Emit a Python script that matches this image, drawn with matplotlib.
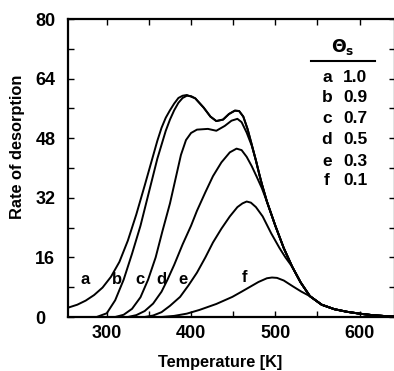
import matplotlib
matplotlib.use("Agg")
import matplotlib.pyplot as plt
from matplotlib.ticker import MultipleLocator, FixedLocator

plt.rcParams['font.family'] = ['Liberation Sans', 'DejaVu Sans']
plt.rcParams['font.weight'] = 'bold'

# ---- data ----
# shared high-temperature tail
tail_T = [555, 570, 585, 600, 615, 630, 642]
tail_rate = [3.3, 2.1, 1.4, 0.9, 0.5, 0.25, 0.1]

# curve a  (theta = 1.0)
a_T = [254, 265, 275, 285, 295, 305, 315, 325, 335, 345, 355, 360, 365, 370, 375,
       380, 385, 390, 395, 405, 415, 423, 430, 438, 445, 452, 457, 462, 467, 472,
       477, 481, 484, 490, 500, 510, 520, 530, 541]
a_rate = [2.5, 3.3, 4.4, 5.9, 7.9, 10.8, 14.8, 20.5, 27.5, 35.3, 43.3, 47.3, 50.8, 53.5, 55.5,
          57.3, 58.8, 59.4, 59.6, 58.7, 56.2, 53.8, 52.6, 53.0, 54.5, 55.4, 55.3, 53.8, 50.5, 46.3,
          42.0, 38.3, 35.7, 31.0, 24.5, 18.5, 13.5, 9.3, 5.6]

# curve b  (theta = 0.9)
b_T = [288, 300, 310, 320, 330, 340, 350, 360, 370, 375, 380, 385, 390, 395, 400]
b_rate = [0.0, 1.0, 4.5, 10.0, 17.0, 24.5, 33.5, 42.5, 50.0, 53.0, 55.5, 57.5, 58.8, 59.4, 59.3]

# curve c  (theta = 0.7)
c_T = [310, 320, 330, 340, 349, 358, 366, 375, 382, 388, 394, 400, 407, 420, 430,
       440, 448, 455, 460, 466, 472]
c_rate = [0.0, 0.6, 2.2, 5.3, 10.0, 16.0, 23.0, 30.5, 37.5, 43.5, 47.5, 49.4, 50.3, 50.5, 50.0,
          51.3, 52.7, 53.2, 52.3, 49.5, 46.0]

# curve d  (theta = 0.5)
d_T = [325, 335, 345, 355, 365, 372, 380, 390, 400, 407, 417, 426, 436, 446, 454,
       460, 466, 472, 478, 484]
d_rate = [0.0, 0.5, 1.6, 3.6, 6.8, 10.0, 14.0, 19.5, 24.5, 28.5, 33.5, 37.8, 41.5, 44.2, 45.2,
          44.8, 43.0, 40.5, 37.6, 34.6]

# curve e  (theta = 0.3)
e_T = [345, 355, 365, 375, 387, 397, 407, 417, 426, 436, 446, 455, 461, 466, 471,
       477, 485, 495, 505, 512]
e_rate = [0.0, 0.4, 1.3, 3.0, 5.4, 8.5, 11.9, 16.0, 20.0, 23.7, 27.0, 29.5, 30.5, 31.0, 30.7,
          29.5, 27.0, 22.5, 18.5, 16.0]

# curve f  (theta = 0.1)
f_T = [365, 380, 395, 410, 430, 449, 460, 470, 480, 490, 496, 502, 510, 521, 531]
f_rate = [0.0, 0.3, 0.9, 1.9, 3.5, 5.4, 6.8, 8.1, 9.4, 10.4, 10.6, 10.5, 9.8, 8.2, 6.8]

curve_labels = ['a', 'b', 'c', 'd', 'e', 'f']
coverages = ['1.0', '0.9', '0.7', '0.5', '0.3', '0.1']
label_T = [274, 312, 339, 365, 391, 464]
label_rate = [10, 10, 10, 10, 10, 10.5]

x_ticks = [300, 400, 500, 600]
y_ticks = [0, 16, 32, 48, 64, 80]


def full(T_head, r_head, join_T):
    """append the shared part of curve a (after join_T) and the shared tail"""
    T = list(T_head)
    r = list(r_head)
    for t, v in zip(a_T, a_rate):
        if t > join_T:
            T.append(t)
            r.append(v)
    return T + tail_T, r + tail_rate


curves = [
    full(a_T, a_rate, 1e9),
    full(b_T, b_rate, 400),
    full(c_T, c_rate, 472),
    full(d_T, d_rate, 486),
    full(e_T, e_rate, 515),
    full(f_T, f_rate, 535),
]

W, H = 394, 371
fig = plt.figure(figsize=(W / 100, H / 100), dpi=100)
ax = fig.add_axes([68 / W, 54 / H, 327 / W, 298 / H])

for T, r in curves:
    ax.plot(T, r, color='black', lw=1.4, solid_capstyle='round', solid_joinstyle='round')

for lab, t, v in zip(curve_labels, label_T, label_rate):
    ax.text(t, v, lab, fontsize=12, fontweight='bold', ha='center', va='center')

ax.set_xlim(254, 642)
ax.set_ylim(0, 80)
ax.xaxis.set_major_locator(FixedLocator(x_ticks))
ax.xaxis.set_minor_locator(MultipleLocator(50))
ax.yaxis.set_major_locator(FixedLocator(y_ticks))
ax.yaxis.set_minor_locator(MultipleLocator(8))
ax.tick_params(which='both', direction='in', top=True, right=True, length=4, width=1.0,
               labelsize=13, colors='black')
ax.tick_params(axis='y', which='both', pad=23.5)
ax.tick_params(axis='x', which='both', pad=6)
for lbl in ax.get_xticklabels() + ax.get_yticklabels():
    lbl.set_fontweight('bold')
for lbl in ax.get_yticklabels():
    lbl.set_horizontalalignment('left')
for s in ax.spines.values():
    s.set_linewidth(1.6)

ax.set_xlabel('Temperature [K]', fontsize=11.7, fontweight='bold')
ax.xaxis.set_label_coords(0.465, -0.128)
ax.set_ylabel('Rate of desorption', fontsize=11.8, fontweight='bold')
ax.yaxis.set_label_coords(-0.131, 0.57)


def px(x, y):
    return x / W, 1 - y / H

# legend block
fig.text(*px(343, 47), r'$\mathbf{\Theta}_\mathbf{s}$', fontsize=12.5, ha='center', va='center')
x0, y0 = px(311, 61)
x1, _ = px(375, 61)
fig.add_artist(plt.Line2D([x0, x1], [y0, y0], color='black', lw=1.5, transform=fig.transFigure))
rows_y = [78, 98, 119, 140, 161, 181]
for lab, cov, yy in zip(curve_labels, coverages, rows_y):
    fig.text(*px(327, yy), lab, fontsize=12.5, fontweight='bold', ha='center', va='center')
    fig.text(*px(355, yy), cov, fontsize=12.5, fontweight='bold', ha='center', va='center')

fig.savefig('out.png', dpi=100)
